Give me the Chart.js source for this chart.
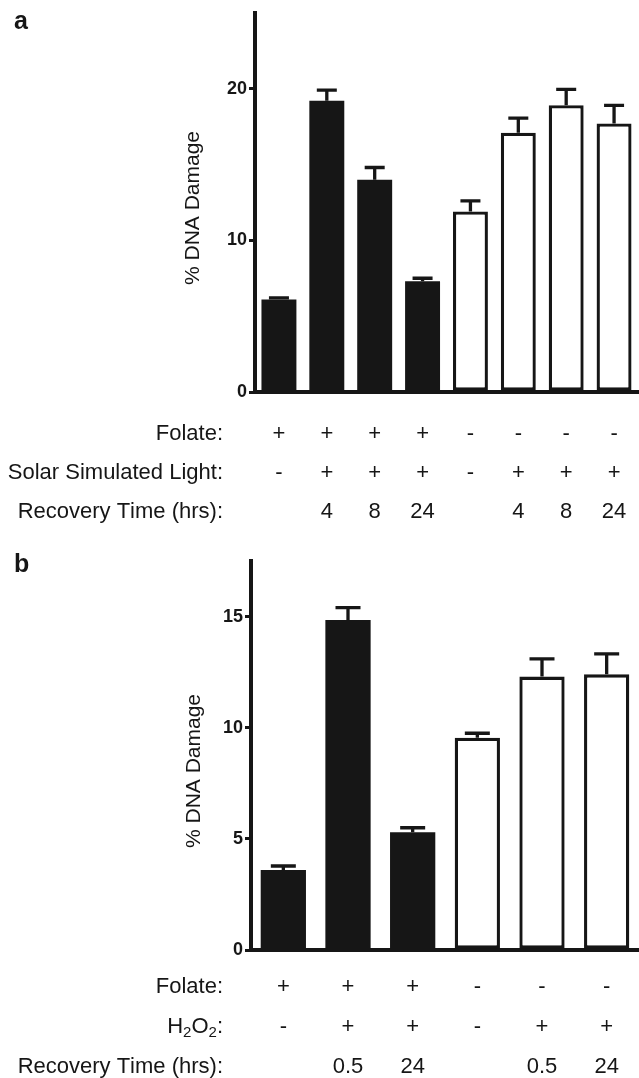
<!DOCTYPE html>
<html>
<head>
<meta charset="utf-8">
<script src="https://cdn.jsdelivr.net/npm/chart.js@4.4.0/dist/chart.umd.min.js"></script>
<style>
    html, body { margin: 0; padding: 0; background: #fff; }
    #wrap { position: relative; width: 639px; height: 1078px; }
    canvas { position: absolute; left: 0; }
    #chartA { top: 0; }
    #chartB { top: 540px; }
</style>
</head>
<body>
<div id="wrap">
    <canvas id="chartA" width="639" height="540"></canvas>
    <canvas id="chartB" width="639" height="538"></canvas>
</div>
<script>
// Panel a: folate / solar simulated light
const folateA = ['+', '+', '+', '+', '-', '-', '-', '-'];
const lightA = ['-', '+', '+', '+', '-', '+', '+', '+'];
const recoveryA = ['', '4', '8', '24', '', '4', '8', '24'];
const damageA = [6.1, 19.2, 14.0, 7.3, 11.9, 17.1, 18.9, 17.7];
const errorA = [0.1, 0.7, 0.8, 0.2, 0.7, 0.95, 1.05, 1.2];
const ticksA = [0, 10, 20];

// Panel b: folate / H2O2
const folateB = ['+', '+', '+', '-', '-', '-'];
const h2o2B = ['-', '+', '+', '-', '+', '+'];
const recoveryB = ['', '0.5', '24', '', '0.5', '24'];
const damageB = [3.6, 14.85, 5.3, 9.55, 12.3, 12.4];
const errorB = [0.18, 0.55, 0.2, 0.2, 0.8, 0.92];
const ticksB = [0, 5, 10, 15];

const INK = '#161616';
const FONT = '"Liberation Sans", Arial, Helvetica, sans-serif';

// error bars on top of each bar
const errorBars = {
    id: 'errorBars',
    afterDatasetsDraw(chart, args, opts) {
        const ctx = chart.ctx;
        const y = chart.scales.y;
        const values = chart.data.datasets[0].data;
        ctx.save();
        ctx.strokeStyle = INK;
        ctx.lineWidth = 3.3;
        chart.getDatasetMeta(0).data.forEach((bar, i) => {
            const base = y.getPixelForValue(values[i]);
            const top = y.getPixelForValue(values[i] + opts.errors[i]);
            ctx.beginPath();
            ctx.moveTo(bar.x, base);
            ctx.lineTo(bar.x, top);
            ctx.moveTo(bar.x - opts.cap / 2, top);
            ctx.lineTo(bar.x + opts.cap / 2, top);
            ctx.stroke();
        });
        ctx.restore();
    }
};

// draws "H_2O_2:" style text, right aligned, with subscripts
function drawRowLabel(ctx, text, right, y) {
    const parts = [];
    for (let i = 0; i < text.length; i++) {
        if (text[i] === '_') { parts.push({ t: text[i + 1], sub: true }); i++; }
        else parts.push({ t: text[i], sub: false });
    }
    const big = '22px ' + FONT, small = '15px ' + FONT;
    let w = 0;
    parts.forEach(p => { ctx.font = p.sub ? small : big; w += ctx.measureText(p.t).width; });
    let x = right - w;
    ctx.textAlign = 'left';
    parts.forEach(p => {
        ctx.font = p.sub ? small : big;
        ctx.fillText(p.t, x, p.sub ? y + 6 : y);
        x += ctx.measureText(p.t).width;
    });
}

// condition table under the x axis, panel letter and y title
const panelText = {
    id: 'panelText',
    afterDraw(chart, args, opts) {
        const ctx = chart.ctx;
        const x = chart.scales.x;
        ctx.save();
        ctx.fillStyle = INK;
        ctx.textBaseline = 'middle';
        opts.rows.forEach(row => {
            drawRowLabel(ctx, row.label, opts.labelRight, row.y);
            ctx.font = '22px ' + FONT;
            ctx.textAlign = 'center';
            row.values.forEach((s, i) => ctx.fillText(s, x.getPixelForValue(i), row.y));
        });
        ctx.font = 'bold 25px ' + FONT;
        ctx.textAlign = 'left';
        ctx.fillText(opts.letter, 14, opts.letterY);
        ctx.translate(opts.titleX, opts.titleY);
        ctx.rotate(-Math.PI / 2);
        ctx.textAlign = 'center';
        ctx.font = '21px ' + FONT;
        ctx.fillText('% DNA Damage', 0, 0);
        ctx.restore();
    }
};

function makePanel(canvasId, cfg) {
    new Chart(document.getElementById(canvasId), {
        type: 'bar',
        data: {
            labels: cfg.folate.map((f, i) => i + 1),
            datasets: [{
                data: cfg.values,
                backgroundColor: cfg.folate.map(f => f === '+' ? INK : '#ffffff'),
                borderColor: INK,
                borderWidth: cfg.folate.map(f => f === '+' ? 0 : 3.3),
                borderSkipped: false,
                categoryPercentage: 1,
                barPercentage: cfg.barPct
            }]
        },
        options: {
            responsive: false,
            animation: false,
            events: [],
            layout: { padding: cfg.padding },
            scales: {
                x: {
                    afterFit(s) { s.height = cfg.xHeight; },
                    grid: { display: false },
                    border: { display: true, color: INK, width: 4 },
                    ticks: { display: false }
                },
                y: {
                    min: 0,
                    max: cfg.max,
                    afterFit(s) { s.width = cfg.yWidth; },
                    afterBuildTicks(s) { s.ticks = cfg.ticks.map(v => ({ value: v })); },
                    grid: { drawOnChartArea: false, drawTicks: true, tickLength: 6, color: INK, lineWidth: 3 },
                    border: { display: true, color: INK, width: 4 },
                    ticks: { color: INK, padding: 2, font: { family: FONT, size: 18, weight: 'bold' } }
                }
            },
            plugins: {
                legend: { display: false },
                tooltip: { enabled: false },
                errorBars: { errors: cfg.errors, cap: cfg.cap },
                panelText: cfg.text
            }
        },
        plugins: [errorBars, panelText]
    });
}

makePanel('chartA', {
    folate: folateA, values: damageA, errors: errorA, ticks: ticksA, max: 25,
    barPct: 0.73, cap: 20, xHeight: 148, yWidth: 255,
    padding: { top: 8, right: 1, left: 0, bottom: 0 },
    text: {
        letter: 'a', letterY: 22, titleX: 193, titleY: 208, labelRight: 223,
        rows: [
            { label: 'Folate:', values: folateA, y: 434 },
            { label: 'Solar Simulated Light:', values: lightA, y: 473 },
            { label: 'Recovery Time (hrs):', values: recoveryA, y: 512 }
        ]
    }
});

makePanel('chartB', {
    folate: folateB, values: damageB, errors: errorB, ticks: ticksB, max: 17.5,
    barPct: 0.70, cap: 25, xHeight: 128, yWidth: 251,
    padding: { top: 21, right: 0, left: 0, bottom: 0 },
    text: {
        letter: 'b', letterY: 25, titleX: 194, titleY: 231, labelRight: 223,
        rows: [
            { label: 'Folate:', values: folateB, y: 447 },
            { label: 'H_2O_2:', values: h2o2B, y: 487 },
            { label: 'Recovery Time (hrs):', values: recoveryB, y: 527 }
        ]
    }
});
</script>
</body>
</html>
